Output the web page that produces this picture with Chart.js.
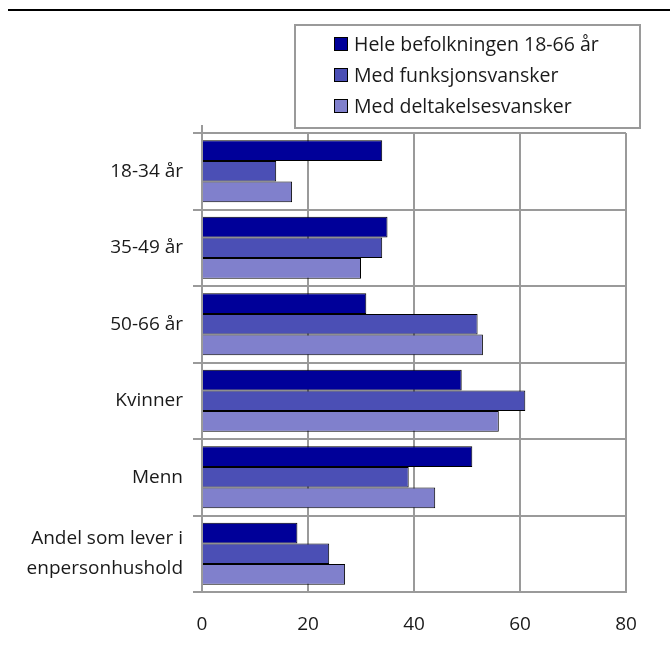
<!DOCTYPE html>
<html>
<head>
<meta charset="utf-8">
<script src="https://cdn.jsdelivr.net/npm/chart.js@4/dist/chart.umd.min.js"></script>
<style>
  html, body { margin: 0; padding: 0; background: #fff; }
  canvas { display: block; }
</style>
</head>
<body>
<canvas id="c" width="670" height="650"></canvas>
<script>
// Categories (rows) and series values in percent
const categories = ['18-34 år', '35-49 år', '50-66 år', 'Kvinner', 'Menn', ['Andel som lever i', 'enpersonhushold']];
const seriesNames = ['Hele befolkningen 18-66 år', 'Med funksjonsvansker', 'Med deltakelsesvansker'];
const heleBefolkningen = [34, 35, 31, 49, 51, 18];
const medFunksjonsvansker = [14, 34, 52, 61, 39, 24];
const medDeltakelsesvansker = [17, 30, 53, 56, 44, 27];
const xTickValues = [0, 20, 40, 60, 80];

const seriesColors = ['#000099', '#4b4fb5', '#8080cc'];
const FONT = '"Open Sans", "Noto Sans", sans-serif';
const GRID = '#9a9a9a';
const TEXT = '#1a1a1a';

// Top rule, boxed legend and the short stub of the left axis above the plot
const decorations = {
  id: 'decorations',
  afterDraw(chart) {
    const ctx = chart.ctx;
    const area = chart.chartArea;
    ctx.save();
    // top rule
    ctx.strokeStyle = '#000';
    ctx.lineWidth = 2;
    ctx.beginPath();
    ctx.moveTo(8, 10);
    ctx.lineTo(670, 10);
    ctx.stroke();

    // left axis stub above the plot
    ctx.strokeStyle = GRID;
    ctx.lineWidth = 2;
    ctx.beginPath();
    ctx.moveTo(area.left, area.top);
    ctx.lineTo(area.left, area.top - 8);
    ctx.stroke();

    // legend box
    const bx = 295, by = 25, bw = 345, bh = 103;
    ctx.fillStyle = '#fff';
    ctx.fillRect(bx, by, bw, bh);
    ctx.strokeStyle = GRID;
    ctx.lineWidth = 2;
    ctx.strokeRect(bx, by, bw, bh);

    ctx.font = '19.5px ' + FONT;
    ctx.textBaseline = 'middle';
    ctx.textAlign = 'left';
    chart.data.datasets.forEach((ds, i) => {
      const cy = 44 + i * 31;
      ctx.fillStyle = ds.backgroundColor;
      ctx.fillRect(334.5, cy - 6.5, 13, 13);
      ctx.strokeStyle = '#000';
      ctx.lineWidth = 1;
      ctx.strokeRect(334.5, cy - 6.5, 13, 13);
      ctx.fillStyle = TEXT;
      ctx.fillText(ds.label, 354, cy + 1);
    });
    ctx.restore();
  }
};

const seriesValues = [heleBefolkningen, medFunksjonsvansker, medDeltakelsesvansker];

new Chart(document.getElementById('c'), {
  type: 'bar',
  data: {
    labels: categories,
    datasets: seriesNames.map((name, i) => ({
      label: name,
      data: seriesValues[i],
      backgroundColor: seriesColors[i],
      borderColor: '#000',
      borderWidth: 1,
      borderSkipped: 'start',
      barPercentage: 1,
      categoryPercentage: 0.81
    }))
  },
  options: {
    indexAxis: 'y',
    responsive: false,
    animation: false,
    devicePixelRatio: 1,
    layout: { padding: { top: 133, right: 44, bottom: 4, left: 0 } },
    plugins: {
      legend: { display: false },
      tooltip: { enabled: false }
    },
    scales: {
      x: {
        min: 0,
        max: 80,
        afterBuildTicks(scale) {
          scale.ticks = xTickValues.map(v => ({ value: v }));
        },
        grid: {
          color: GRID,
          lineWidth: 2,
          drawTicks: false
        },
        border: { color: GRID, width: 2 },
        ticks: {
          font: { family: FONT, size: 19 },
          color: TEXT,
          padding: 21
        },
        afterFit(scale) { scale.height = 54; }
      },
      y: {
        grid: {
          color: GRID,
          lineWidth: 2,
          offset: true,
          tickLength: 9
        },
        border: { color: GRID, width: 2 },
        ticks: {
          font: { family: FONT, size: 19, lineHeight: 1.55 },
          color: TEXT,
          padding: 10,
          autoSkip: false
        },
        afterFit(scale) { scale.width = 202; }
      }
    }
  },
  plugins: [decorations]
});
</script>
</body>
</html>
